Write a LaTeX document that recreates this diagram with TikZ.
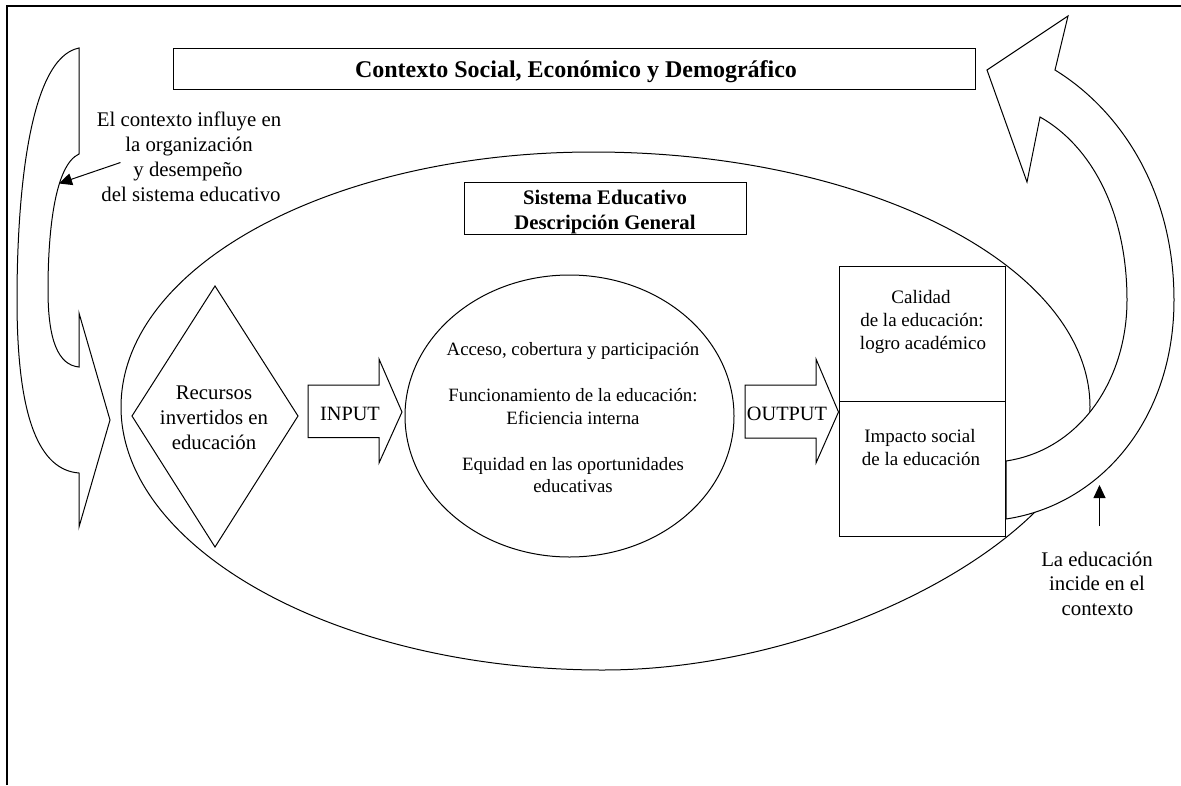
\documentclass[tikz,border=0pt]{standalone}
\usepackage{fontspec}
\setmainfont{Liberation Serif}
\usetikzlibrary{arrows.meta}
\begin{document}
\begin{tikzpicture}[x=1pt,y=-1pt,line width=1pt,line join=miter,
  shp/.style={draw=black,fill=white,line width=1pt},
  box/.style={draw=black,fill=white,line width=1pt,inner sep=0pt},
  ln/.style={anchor=base,inner sep=0pt},
  anno/.style={ln,font=\fontsize{20.8}{25}\selectfont},
  circt/.style={ln,font=\fontsize{18.8}{22}\selectfont},
  boxt/.style={ln,font=\fontsize{19}{23}\selectfont},
  iot/.style={ln,font=\fontsize{20.3}{24}\selectfont},
  ttl/.style={ln,font=\bfseries\fontsize{24}{28}\selectfont},
  sist/.style={ln,font=\bfseries\fontsize{20.7}{25}\selectfont},
  lblarrow/.style={line width=1pt,-{Triangle[length=13pt,width=12pt]}}]
\useasboundingbox (0,0) rectangle (1181,785);
% frame
\draw[line width=1.2pt] (7,785) -- (7,6) -- (1181,6);
% big ellipse (Sistema educativo)
\draw (121,407) .. controls (121,266) and (332,152) .. (593,152)
  .. controls (867,152) and (1090,266) .. (1090,407)
  .. controls (1090,528) and (840,670) .. (603,670)
  .. controls (336,670) and (121,548) .. (121,407) -- cycle;
% title box
\node[box,minimum width=802pt,minimum height=41pt] (ctxbox) at (574,68.5) {};
\node[ttl] (ctxtxt) at (576,77) {Contexto Social, Económico y Demográfico};
% sistema box
\node[box,minimum width=282pt,minimum height=52pt] (sisbox) at (605,208) {};
\node[sist] (sis1) at (605,204) {Sistema Educativo};
\node[sist] (sis2) at (605,229) {Descripción General};
% diamond
\draw[shp] (215,286) -- (298,416) -- (215,547) -- (132,416) -- cycle;
\node[anno] (rec1) at (214,399) {Recursos};
\node[anno] (rec2) at (214,424) {invertidos en};
\node[anno] (rec3) at (214,449) {educación};
% INPUT arrow
\draw[shp] (308,385) -- (379,385) -- (379,359) -- (402,412) -- (379,463) -- (379,437.5) -- (308,437.5) -- cycle;
\node[iot] (input) at (350,420) {INPUT};
% circle
\draw[shp] (569.5,416) ellipse [x radius=164.5, y radius=141];
\node[circt] (c1) at (573,355) {Acceso, cobertura y participación};
\node[circt] (c2) at (573,401) {Funcionamiento de la educación:};
\node[circt] (c3) at (573,424) {Eficiencia interna};
\node[circt] (c4) at (573,470) {Equidad en las oportunidades};
\node[circt] (c5) at (573,492) {educativas};
% OUTPUT arrow
\draw[shp] (745,385) -- (816,385) -- (816,359) -- (838.5,412) -- (816,463) -- (816,438) -- (745,438) -- cycle;
\node[iot] (output) at (787,420) {OUTPUT};
% output boxes
\node[box,minimum width=166pt,minimum height=135pt] (cal) at (922,333.5) {};
\node[box,minimum width=166pt,minimum height=135pt] (imp) at (922,468.5) {};
\node[boxt] (cal1) at (921,303) {Calidad};
\node[boxt] (cal2) at (922,326) {de la educación:};
\node[boxt] (cal3) at (923,349) {logro académico};
\node[boxt] (imp1) at (920,442.5) {Impacto social};
\node[boxt] (imp2) at (921,465) {de la educación};
% right curved arrow
\draw[shp] (1006,519) .. controls (1100,505) and (1174,420) .. (1174,300)
  .. controls (1174,190) and (1120,110) .. (1055,70)
  -- (1068,16) -- (987,70) -- (1027,182) -- (1040,117)
  .. controls (1090,145) and (1127,210) .. (1127,300)
  .. controls (1127,380) and (1080,450) .. (1006,461) -- cycle;
% left curved arrow
\draw[shp] (79,48) .. controls (28,58) and (17,200) .. (17,300)
  .. controls (17,420) and (40,470) .. (79,473)
  -- (79,527) -- (110,420) -- (79,313) -- (79,367)
  .. controls (58,365) and (48,340) .. (48,290)
  .. controls (48,230) and (55,165) .. (79,154) -- cycle;
% left annotation
\node[anno] (l1) at (189,126) {El contexto influye en};
\node[anno] (l2) at (189,151.5) {la organización};
\node[anno] (l3) at (188,176) {y desempeño};
\node[anno] (l4) at (191,201) {del sistema educativo};
\coordinate (la) at (120.5,162.5);
\coordinate (lb) at (59,183.5);
\draw[lblarrow] (la) -- (lb);
% right annotation
\node[anno] (r1) at (1097,566) {La educación};
\node[anno] (r2) at (1097,590.5) {incide en el};
\node[anno] (r3) at (1097.5,615) {contexto};
\coordinate (ra) at (1099.5,526);
\coordinate (rb) at (1099.5,485);
\draw[lblarrow] (ra) -- (rb);
\end{tikzpicture}
\end{document}
